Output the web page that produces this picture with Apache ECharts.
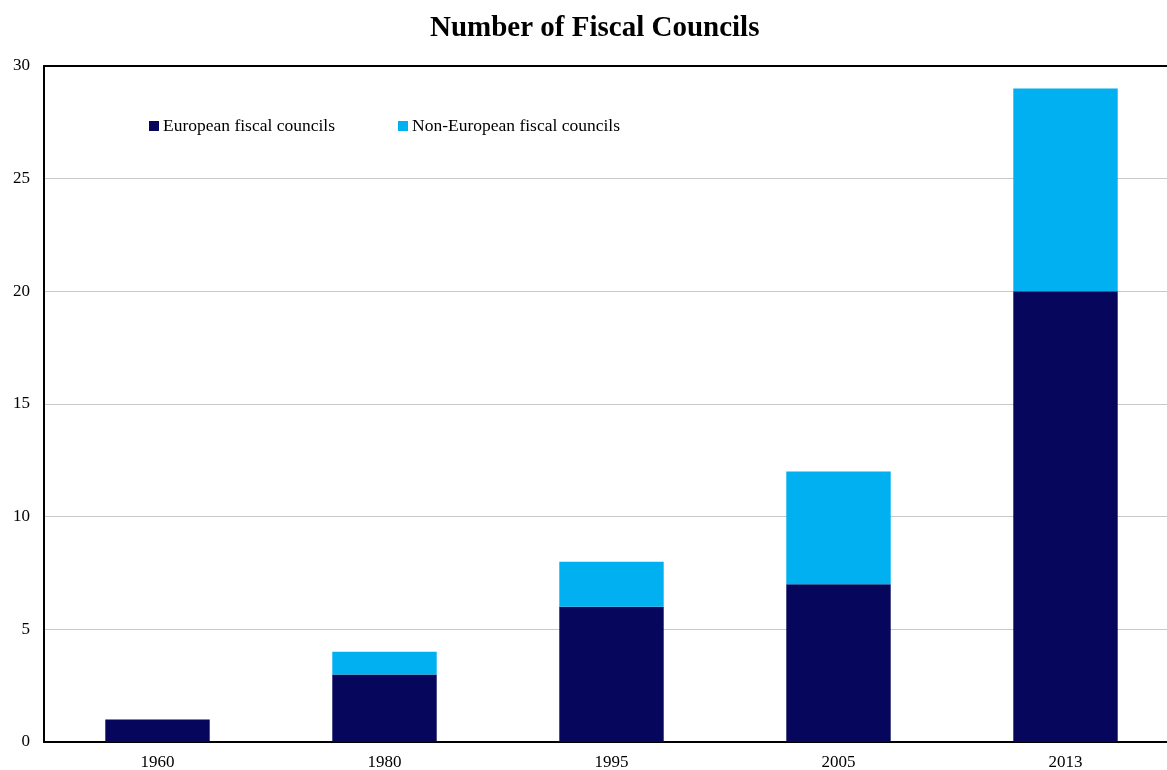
<!DOCTYPE html>
<html>
<head>
<meta charset="utf-8">
<script src="https://cdn.jsdelivr.net/npm/echarts@6/dist/echarts.min.js"></script>
<style>
  html, body { margin: 0; padding: 0; background: #fff; }
  #chart { width: 1167px; height: 770px; }
</style>
</head>
<body>
<div id="chart"></div>
<script>
// data
var years = ['1960', '1980', '1995', '2005', '2013'];
var european = [1, 3, 6, 7, 20];
var nonEuropean = [0, 1, 2, 5, 9];
var yTicks = [0, 5, 10, 15, 20, 25, 30];

var font = '"Liberation Serif", "Times New Roman", serif';

var chart = echarts.init(document.getElementById('chart'));
chart.setOption({
    animation: false,
    backgroundColor: '#fff',
    title: {
        text: 'Number of Fiscal Councils',
        left: 425,
        top: 9,
        textStyle: { fontFamily: font, fontSize: 29, fontWeight: 'bold', color: '#000' }
    },
    legend: {
        left: 144,
        top: 112,
        itemWidth: 10,
        itemHeight: 10,
        itemGap: 63,
        icon: 'rect',
        textStyle: { fontFamily: font, fontSize: 17.5, color: '#000', padding: [0, 0, 0, -1] },
        data: ['European fiscal councils', 'Non-European fiscal councils']
    },
    // plot runs a little past the right edge of the window, like the original
    grid: { left: 44, right: -12, top: 66, bottom: 28, containLabel: false, outerBoundsMode: 'none' },
    xAxis: [{
        type: 'category',
        data: years,
        axisLine: { lineStyle: { color: '#000', width: 2 } },
        axisTick: { show: false },
        axisLabel: { fontFamily: font, fontSize: 17, color: '#000', margin: 12 }
    }, {
        // top border line only
        type: 'category',
        position: 'top',
        data: years,
        axisLine: { lineStyle: { color: '#000', width: 2 } },
        axisTick: { show: false },
        axisLabel: { show: false }
    }],
    yAxis: {
        type: 'value',
        min: yTicks[0],
        max: yTicks[yTicks.length - 1],
        interval: 5,
        axisLine: { show: true, lineStyle: { color: '#000', width: 2 } },
        axisTick: { show: false },
        axisLabel: { fontFamily: font, fontSize: 17, color: '#000', margin: 14 },
        splitLine: { lineStyle: { color: '#c8c8c8', width: 1 } }
    },
    series: [{
        name: 'European fiscal councils',
        type: 'bar',
        stack: 'total',
        barWidth: '46%',
        itemStyle: { color: '#06065C' },
        data: european
    }, {
        name: 'Non-European fiscal councils',
        type: 'bar',
        stack: 'total',
        barWidth: '46%',
        itemStyle: { color: '#00B0F0' },
        data: nonEuropean
    }]
});
</script>
</body>
</html>
